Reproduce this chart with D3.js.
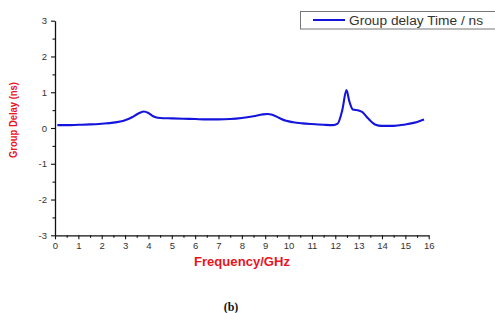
<!DOCTYPE html>
<html><head><meta charset="utf-8">
<script src="https://cdn.jsdelivr.net/npm/d3@7"></script>
<style>body{margin:0;background:#fff}svg{display:block}</style>
</head><body>
<svg id="c" width="495" height="313"></svg>
<script>
const freq = [0.1,0.5,1,1.5,2,2.5,3,3.3,3.55,3.8,4.0,4.2,4.5,5,5.5,6,6.5,7,7.5,8,8.5,8.9,9.1,9.3,9.6,9.9,10.2,10.6,11,11.5,11.9,12.1,12.3,12.48,12.6,12.75,13.0,13.15,13.4,13.7,14,14.5,15,15.4,15.8];
const delay = [0.08,0.08,0.09,0.1,0.12,0.15,0.22,0.3,0.4,0.46,0.42,0.33,0.28,0.27,0.26,0.25,0.24,0.24,0.25,0.28,0.33,0.38,0.39,0.37,0.28,0.2,0.16,0.13,0.11,0.09,0.08,0.12,0.5,1.06,0.75,0.52,0.49,0.45,0.27,0.1,0.06,0.06,0.1,0.15,0.24];
const xTicks = d3.range(0,17,1);
const yTicks = [-3,-2,-1,0,1,2,3];
const seriesName = "Group delay Time / ns";

const svg = d3.select("#c");
const x = d3.scaleLinear().domain([0,16]).range([55,428.7]);
const y = d3.scaleLinear().domain([-3,3]).range([235.3,20.7]);
const font = "Liberation Sans, Arial, sans-serif";
const fmt = d => String(d);

// axes
svg.append("g").attr("transform",`translate(0,${y(-3)})`)
  .call(d3.axisBottom(x).tickValues(xTicks).tickFormat(fmt).tickSize(4).tickSizeOuter(0).tickPadding(3));
svg.append("g").attr("transform",`translate(0,${y(-3)})`)
  .call(d3.axisBottom(x).tickValues(d3.range(0.5,16,1)).tickSize(2.5).tickFormat("").tickSizeOuter(0))
  .select(".domain").remove();
svg.append("g").attr("transform",`translate(${x(0)},0)`)
  .call(d3.axisLeft(y).tickValues(yTicks).tickFormat(fmt).tickSize(4).tickSizeOuter(0).tickPadding(4));
svg.append("g").attr("transform",`translate(${x(0)},0)`)
  .call(d3.axisLeft(y).tickValues(d3.range(-2.5,3,1)).tickSize(2.5).tickFormat("").tickSizeOuter(0))
  .select(".domain").remove();
svg.selectAll(".domain").attr("stroke","#111").attr("stroke-width",1.3);
svg.selectAll(".tick line").attr("stroke","#111").attr("stroke-width",1.1);
svg.selectAll(".tick text").attr("font-family",font).attr("font-size","9.5px").attr("fill","#333");

// line
const pts = freq.map((f,i)=>[f,delay[i]]);
svg.append("path").datum(pts)
  .attr("fill","none").attr("stroke","#1414dc").attr("stroke-width",2.1)
  .attr("d", d3.line().x(d=>x(d[0])).y(d=>y(d[1])).curve(d3.curveMonotoneX));

// axis titles
svg.append("text").attr("x",242).attr("y",266).attr("text-anchor","middle")
  .attr("font-family",font).attr("font-weight","bold").attr("font-size","12.5px").attr("fill","#e8141e")
  .attr("textLength",96).attr("lengthAdjust","spacingAndGlyphs")
  .text("Frequency/GHz");
svg.append("text").attr("transform","translate(17,120) rotate(-90)").attr("text-anchor","middle")
  .attr("font-family",font).attr("font-weight","bold").attr("font-size","11px").attr("fill","#e8141e")
  .attr("textLength",76).attr("lengthAdjust","spacingAndGlyphs")
  .text("Group Delay (ns)");

// legend
svg.append("rect").attr("x",300.5).attr("y",11.5).attr("width",200).attr("height",17.5)
  .attr("fill","#fff").attr("stroke","#777").attr("stroke-width",1);
svg.append("line").attr("x1",313).attr("x2",345).attr("y1",20).attr("y2",20)
  .attr("stroke","#1414dc").attr("stroke-width",2);
svg.append("text").attr("x",349).attr("y",24.5).attr("font-family",font).attr("font-size","12.5px").attr("fill","#333")
  .attr("textLength",134).attr("lengthAdjust","spacingAndGlyphs")
  .text(seriesName);

// caption
svg.append("text").attr("x",231).attr("y",311).attr("text-anchor","middle")
  .attr("font-family","Liberation Serif, Times New Roman, serif").attr("font-weight","bold").attr("font-size","12px").attr("fill","#111")
  .text("(b)");
</script>
</body></html>
